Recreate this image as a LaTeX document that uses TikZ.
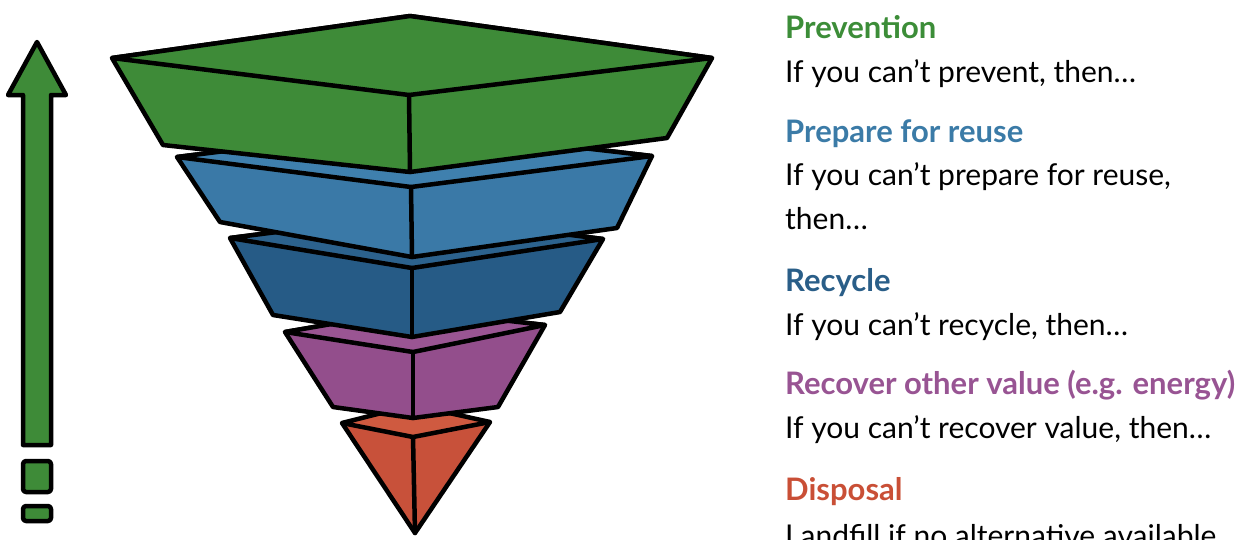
\documentclass[tikz,border=0pt]{standalone}
\usepackage{fontspec}
\setmainfont{Lato}
\definecolor{cgreen}{HTML}{3E8B38}
\definecolor{cgreentop}{HTML}{3E8B38}
\definecolor{cblue}{HTML}{3A79A7}
\definecolor{cbluetop}{HTML}{3F80AE}
\definecolor{cdblue}{HTML}{265B86}
\definecolor{cdbluetop}{HTML}{2C628D}
\definecolor{cpurple}{HTML}{934E8C}
\definecolor{cpurpletop}{HTML}{9A5593}
\definecolor{cred}{HTML}{C8513A}
\definecolor{credtop}{HTML}{CF5A40}
\definecolor{tgreen}{HTML}{3C8D38}
\definecolor{tblue}{HTML}{3B7BA7}
\definecolor{tdblue}{HTML}{2A5E88}
\definecolor{tpurple}{HTML}{985493}
\definecolor{tred}{HTML}{C94F36}
\begin{document}
\begin{tikzpicture}[x=1pt,y=-1pt,
  edge/.style={draw=black,line width=4.5pt,line join=round,line cap=round},
  head/.style={anchor=base west,inner sep=0pt,font=\fontsize{31}{36}\selectfont\bfseries},
  body/.style={anchor=base west,inner sep=0pt,font=\fontsize{30}{36}\selectfont,text=black}]
\useasboundingbox (0,0) rectangle (1249,539);
\clip (0,0) rectangle (1249,539);
% ---- left arrow ----
\draw[edge,fill=cgreen] (23,445) -- (23,95) -- (8,95) -- (37,42) -- (66,95) -- (51,95) -- (51,445) -- cycle;
\draw[edge,fill=cgreen,rounded corners=3pt] (23,461) rectangle (51,492);
\draw[edge,fill=cgreen,rounded corners=3pt] (23,506) rectangle (51,521);
% ---- red (bottom) ----
\draw[edge,fill=cred] (342,423) -- (490,422) -- (415,533) -- cycle;
\draw[edge,fill=credtop] (342,423) -- (413,405) -- (490,422) -- (413,437) -- cycle;
\draw[edge] (413,437) -- (415,533);
% ---- purple ----
\draw[edge,fill=cpurple] (285,332) -- (413,310) -- (545,325) -- (498,407) -- (413,418) -- (333,407) -- cycle;
\draw[edge,fill=cpurpletop] (285,332) -- (413,310) -- (545,325) -- (413,352) -- cycle;
\draw[edge] (413,352) -- (413,418);
% ---- dark blue ----
\draw[edge,fill=cdblue] (230,238) -- (410,215) -- (603,239) -- (560,312) -- (412,337) -- (273,315) -- cycle;
\draw[edge,fill=cdbluetop] (230,238) -- (410,215) -- (603,239) -- (412,268) -- cycle;
\draw[edge] (412,268) -- (412,337);
% ---- blue ----
\draw[edge,fill=cblue] (177,157) -- (410,128) -- (652,156) -- (617,228) -- (412,257) -- (220,222) -- cycle;
\draw[edge,fill=cbluetop] (177,157) -- (410,128) -- (652,156) -- (411,187) -- cycle;
\draw[edge] (411,187) -- (412,257);
% ---- green (top) ----
\draw[edge,fill=cgreen] (112,58) -- (410,16) -- (712,58) -- (667,138) -- (410,172) -- (163,145) -- cycle;
\draw[edge,fill=cgreentop] (112,58) -- (410,16) -- (712,58) -- (409,95) -- cycle;
\draw[edge] (409,95) -- (410,172);
% ---- texts ----
\node[head,text=tgreen] (h1) at (785,38) {Prevention};
\node[body] (b1) at (785,82) {If you can’t prevent, then…};
\node[head,text=tblue] (h2) at (785,142) {Prepare for reuse};
\node[body] (b2) at (785,185) {If you can’t prepare for reuse,};
\node[body] (b2b) at (785,229) {then…};
\node[head,text=tdblue] (h3) at (785,291) {Recycle};
\node[body] (b3) at (785,335) {If you can’t recycle, then…};
\node[head,text=tpurple] (h4) at (785,394) {Recover other value (e.g. energy)};
\node[body] (b4) at (785,438) {If you can’t recover value, then…};
\node[head,text=tred] (h5) at (785,500) {Disposal};
\node[body] (b5) at (785,546) {Landfill if no alternative available};
\end{tikzpicture}
\end{document}
